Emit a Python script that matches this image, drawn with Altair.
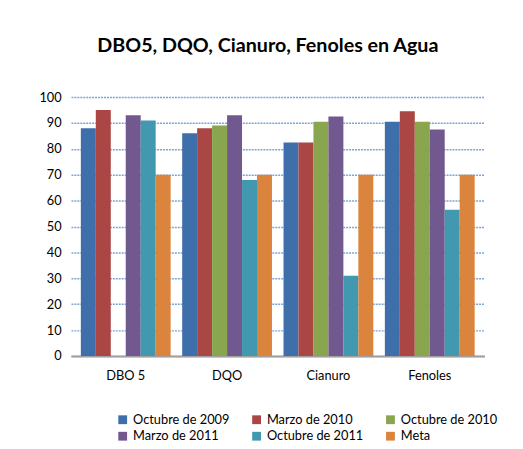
import altair as alt
import pandas as pd

categories = ["DBO 5", "DQO", "Cianuro", "Fenoles"]
series = ["Octubre de 2009", "Marzo de 2010", "Octubre de 2010",
          "Marzo de 2011", "Octubre de 2011", "Meta"]
colors = ["#3F6FAA", "#AA4643", "#89A54E", "#71588F", "#4198AF", "#DB843D"]

oct_2009 = [88, 86, 82.5, 90.5]
mar_2010 = [95, 88, 82.5, 94.5]
oct_2010 = [None, 89, 90.5, 90.5]
mar_2011 = [93, 93, 92.5, 87.5]
oct_2011 = [91, 68, 31, 56.5]
meta = [70, 70, 70, 70]

values = [oct_2009, mar_2010, oct_2010, mar_2011, oct_2011, meta]
rows = []
for s, vals in zip(series, values):
    for c, v in zip(categories, vals):
        rows.append({"Categoria": c, "Serie": s, "Valor": v})
df = pd.DataFrame(rows)

# legend fills column by column: reorder so rows read like the original
legend_order = [0, 3, 1, 4, 2, 5]
leg_domain = [series[i] for i in legend_order]
leg_range = [colors[i] for i in legend_order]

FONT = "Lato, Open Sans, sans-serif"

chart = alt.Chart(df).mark_bar(stroke=None).encode(
    x=alt.X("Categoria:N", sort=categories, title=None,
            scale=alt.Scale(paddingInner=0.114, paddingOuter=0.097),
            axis=alt.Axis(labelAngle=0, ticks=False, labelPadding=14,
                          labelFontSize=13, labelColor="#000",
                          domainColor="#A0A0A0", domainWidth=2)),
    xOffset=alt.XOffset("Serie:N", sort=series,
                        scale=alt.Scale(paddingInner=0, paddingOuter=0)),
    y=alt.Y("Valor:Q", title=None,
            scale=alt.Scale(domain=[0, 100], nice=False),
            axis=alt.Axis(values=list(range(0, 101, 10)), ticks=False,
                          labelPadding=10, labelFontSize=13, labelColor="#000",
                          domain=False, gridColor="#5B8CCB", gridDash=[2, 1],
                          gridWidth=1.5, gridOpacity=0.8)),
    color=alt.Color("Serie:N",
                    scale=alt.Scale(domain=leg_domain, range=leg_range),
                    legend=alt.Legend(title=None, orient="none", legendX=46,
                                      legendY=321, columns=3, symbolType="square",
                                      symbolSize=80, symbolStrokeWidth=0,
                                      labelFontSize=13, labelColor="#000",
                                      columnPadding=20, rowPadding=3,
                                      labelLimit=200)),
).properties(
    width=420, height=263,
    title=alt.TitleParams("DBO5, DQO, Cianuro, Fenoles en Agua",
                          fontSize=20, fontWeight="bold", font=FONT,
                          color="#000", dx=-10, offset=36),
    autosize=alt.AutoSizeParams(type="none"),
    padding={"left": 64, "top": 87, "right": 31, "bottom": 91},
).configure(font=FONT).configure_view(stroke=None)

chart.save("out.html", embed_options={"renderer": "svg", "actions": False})
